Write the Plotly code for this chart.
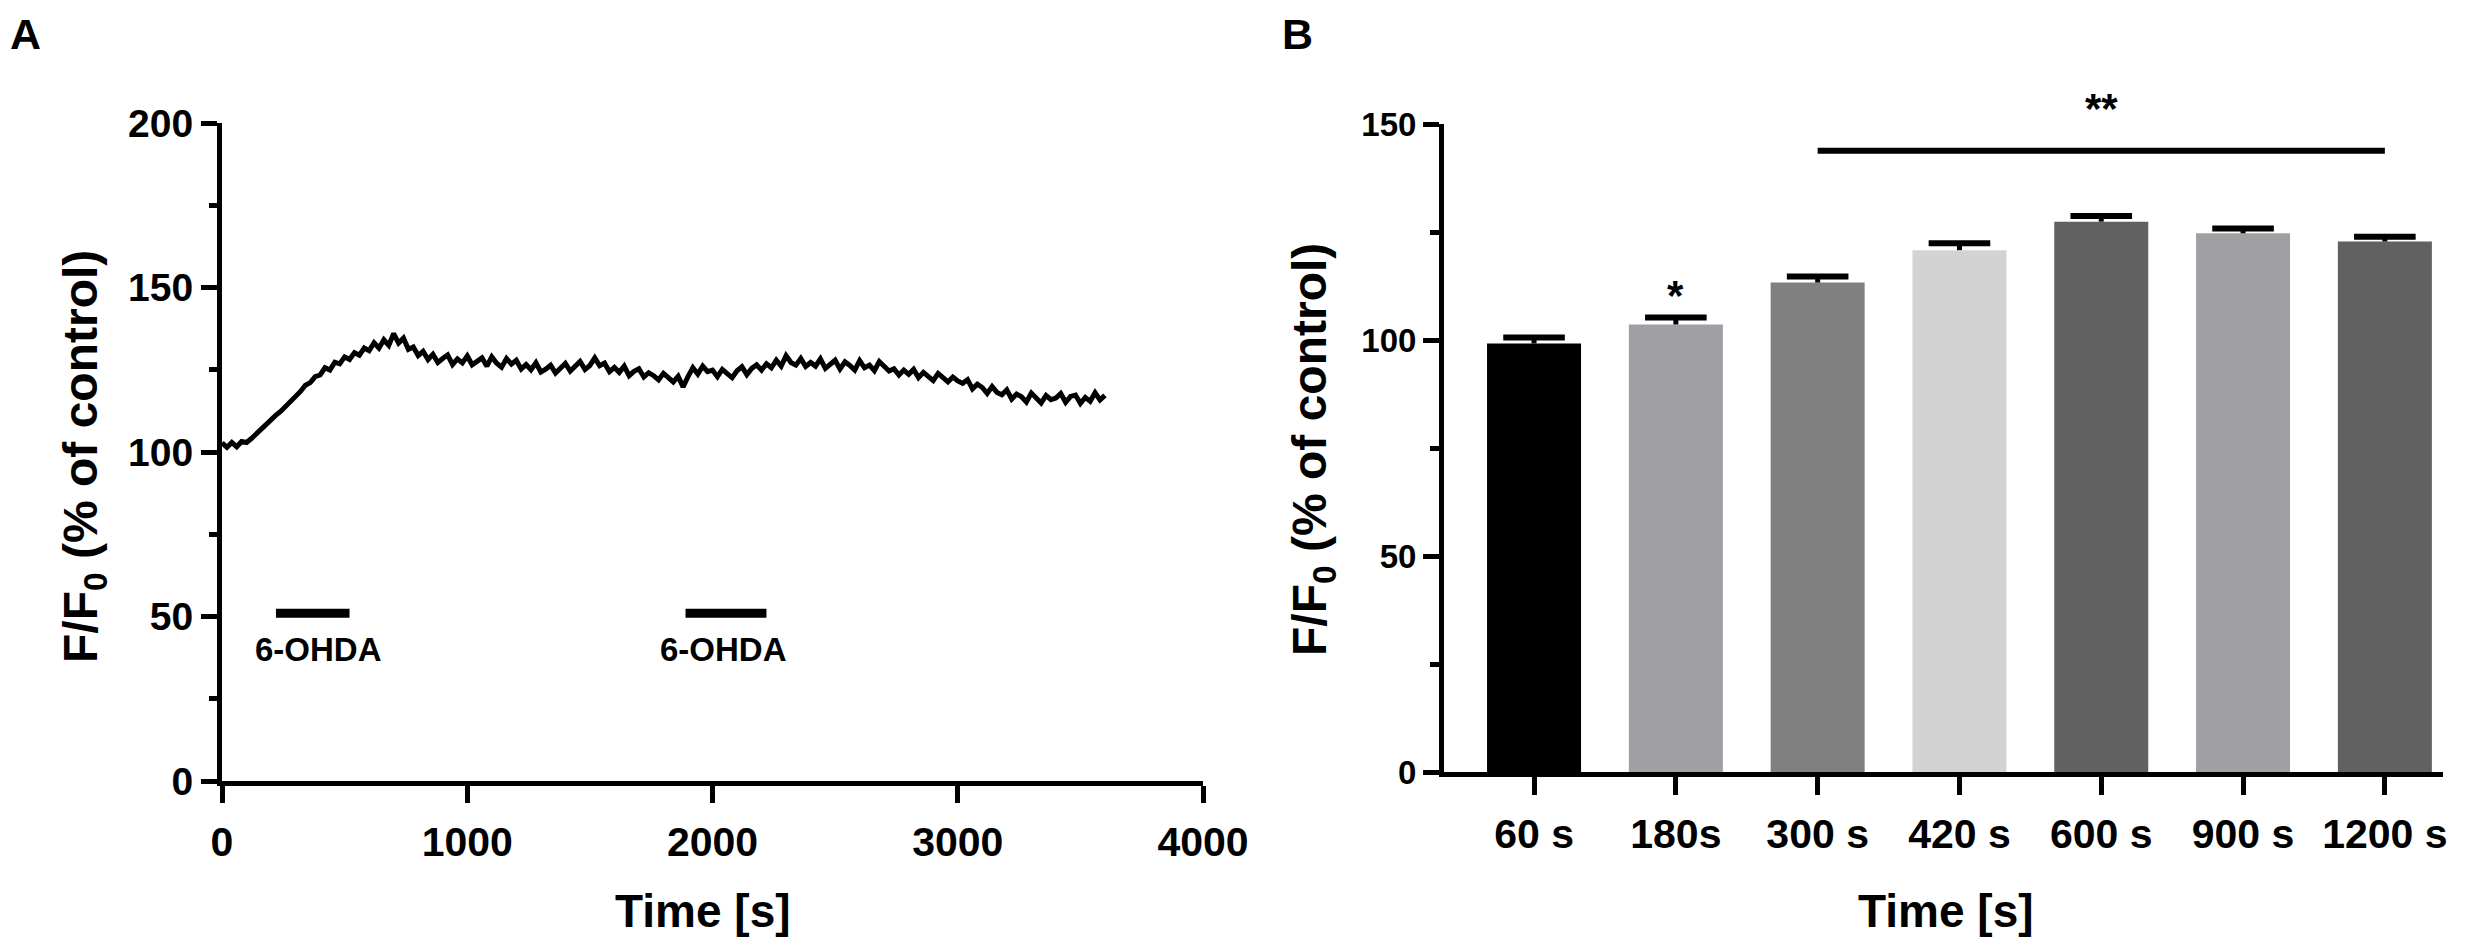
import plotly.graph_objects as go

# ---------------- Data: panel A (time course) ----------------
trace_time = list(range(0, 3601, 20))
trace_ratio = [
    102.8, 101.4, 102.9, 101.6, 103.2, 102.9, 104.1, 105.6, 106.9, 108.3,
    109.6, 111.2, 112.4, 113.9, 115.2, 117.1, 118.4, 120.3, 121.1, 122.9,
    123.4, 125.6, 124.9, 127.3, 126.8, 128.9, 128.1, 130.2, 129.4, 131.6,
    130.8, 133.2, 131.6, 134.1, 132.4, 136.0, 133.1, 134.6, 131.2, 131.9,
    129.3, 130.6, 128.1, 129.7, 127.2, 128.4, 129.5, 126.6, 128.3, 127.1,
    129.2, 126.5, 127.8, 128.6, 126.1, 128.9, 127.0, 125.8, 128.4, 126.7,
    127.9, 125.2, 126.6, 125.0, 127.1, 124.3, 125.2, 126.4, 124.0, 125.6,
    126.9, 124.6, 126.0, 127.5, 125.1, 126.3, 128.6, 126.2, 127.0, 124.4,
    125.7, 124.2, 126.1, 123.2, 124.5, 125.3, 122.8, 124.1, 123.2, 121.9,
    123.9, 122.4, 121.3, 123.0, 119.8, 122.9, 125.6, 123.7, 126.1, 124.4,
    124.9, 122.9, 125.1, 123.8, 122.6, 124.7, 125.9, 123.5, 125.4, 126.5,
    124.9, 126.8, 125.6, 127.9, 126.1, 129.3, 127.2, 126.4, 128.4, 126.0,
    127.2, 126.1, 128.3, 125.4, 126.8, 127.9, 125.2, 127.4, 126.3, 124.9,
    127.8, 125.6, 126.4, 124.7, 127.5, 125.8, 124.6, 125.3, 123.4, 124.9,
    123.6, 125.1, 122.6, 124.2, 123.0, 121.7, 123.9, 122.4, 121.3, 122.8,
    121.6, 120.9, 122.0, 119.2, 120.6, 119.6, 117.8, 119.9, 118.1, 117.4,
    118.9, 116.1, 117.6, 116.8, 115.2, 117.9, 116.3, 114.9, 117.2, 115.9,
    116.4, 117.8, 115.1, 116.9, 117.3, 114.8, 116.6, 115.4, 118.0, 115.8,
    117.2,
]
ohda_start = [220, 1890]
ohda_end = [520, 2220]
ohda_level = 51
ohda_label_x = [395, 2045]
ohda_label_y = 40
ohda_label = "6-OHDA"
a_xticks = [0, 1000, 2000, 3000, 4000]
a_yticks = [0, 50, 100, 150, 200]

# ---------------- Data: panel B (bars) ----------------
b_categories = ["60 s", "180s", "300 s", "420 s", "600 s", "900 s", "1200 s"]
b_means = [99.2, 103.6, 113.3, 120.8, 127.4, 124.7, 122.8]
b_sem = [1.4, 1.6, 1.4, 1.6, 1.3, 1.1, 1.1]
b_colors = ["#000000", "#a0a0a4", "#808080", "#d3d3d3", "#616161", "#a0a0a4", "#616161"]
b_yticks = [0, 50, 100, 150]
b_ymax = 150
star_single_cat = "180s"
star_single_y = 110.4
sig_start_cat = "300 s"
sig_end_cat = "1200 s"
sig_level = 143.8
sig_text_y = 153.5

W, H = 2467, 947
OFF = 8  # page body margin offset
FONT = "Liberation Sans, Arial, sans-serif"


def px_x(p):
    return (p - OFF) / W


def px_y(p):
    return 1 - (p - OFF) / H


fig = go.Figure()

# Panel A trace
fig.add_trace(go.Scatter(
    x=trace_time, y=trace_ratio, mode="lines",
    line=dict(color="black", width=5),
    xaxis="x", yaxis="y", showlegend=False, hoverinfo="skip",
))

# Panel B bars
fig.add_trace(go.Bar(
    x=b_categories, y=b_means, marker=dict(color=b_colors, line=dict(width=0)),
    width=0.663, xaxis="x2", yaxis="y2", showlegend=False,
))

# Panel B error bars (upward only): stems + caps
stem_x, stem_y = [], []
for c, m, s in zip(b_categories, b_means, b_sem):
    stem_x += [c, c, None]
    stem_y += [m, m + s, None]
fig.add_trace(go.Scatter(
    x=stem_x, y=stem_y, mode="lines", line=dict(color="black", width=5),
    xaxis="x2", yaxis="y2", showlegend=False, hoverinfo="skip",
))
fig.add_trace(go.Scatter(
    x=b_categories, y=[m + s for m, s in zip(b_means, b_sem)], mode="markers",
    marker=dict(symbol="line-ew", size=44, color="black",
                line=dict(color="black", width=6)),
    xaxis="x2", yaxis="y2", showlegend=False, hoverinfo="skip",
))

tick_common = dict(showline=True, linecolor="black", linewidth=5, ticks="outside",
                   tickcolor="black", tickwidth=5, showgrid=False, zeroline=False,
                   mirror=False, automargin=False)

fig.update_layout(
    template="none",
    width=W, height=H, autosize=False,
    margin=dict(l=0, r=0, t=0, b=0, pad=0, autoexpand=False),
    paper_bgcolor="white", plot_bgcolor="white",
    font=dict(family=FONT, color="black"),
    xaxis=dict(domain=[px_x(222), px_x(1203)], range=[0, 4000], anchor="y",
               tickvals=a_xticks, ticklen=17,
               tickfont=dict(size=41, family=FONT, weight="bold"),
               ticklabelstandoff=4, **tick_common),
    yaxis=dict(domain=[px_y(781), px_y(123)], range=[0, 200], anchor="x",
               tickvals=a_yticks, ticklen=16,
               minor=dict(dtick=25, ticks="outside", ticklen=8, tickwidth=5, tickcolor="black"),
               tickfont=dict(size=39, family=FONT, weight="bold"),
               ticklabelstandoff=0, **tick_common),
    xaxis2=dict(domain=[px_x(1444), px_x(2443)], range=[-0.635, 6.41], anchor="y2",
                type="category", categoryorder="array", categoryarray=b_categories,
                ticklen=18, tickfont=dict(size=41, family=FONT, weight="bold"),
                ticklabelstandoff=4, **tick_common),
    yaxis2=dict(domain=[px_y(772), px_y(124)], range=[0, b_ymax], anchor="x2",
                tickvals=b_yticks, ticklen=16,
                minor=dict(dtick=25, ticks="outside", ticklen=9, tickwidth=5, tickcolor="black"),
                tickfont=dict(size=33, family=FONT, weight="bold"),
                ticklabelstandoff=0, **tick_common),
)

# 6-OHDA application bars
for s, e in zip(ohda_start, ohda_end):
    fig.add_shape(type="line", xref="x", yref="y", x0=s, x1=e, y0=ohda_level, y1=ohda_level,
                  line=dict(color="black", width=9))
for lx in ohda_label_x:
    fig.add_annotation(x=lx, y=ohda_label_y, xref="x", yref="y", text=ohda_label,
                       xanchor="center", yanchor="middle",
                       showarrow=False, font=dict(size=33, family=FONT, weight="bold"))

# significance line and stars
i0 = b_categories.index(sig_start_cat)
i1 = b_categories.index(sig_end_cat)
fig.add_shape(type="line", xref="x2", yref="y2", x0=i0, x1=i1, y0=sig_level, y1=sig_level,
              line=dict(color="black", width=6))
fig.add_annotation(x=(i0 + i1) / 2, y=sig_text_y / b_ymax, xref="x2", yref="y2 domain",
                   text="**", xanchor="center", yanchor="middle", showarrow=False,
                   font=dict(size=42, family=FONT, weight="bold"))
fig.add_annotation(x=star_single_cat, y=star_single_y, xref="x2", yref="y2", text="*",
                   xanchor="center", yanchor="middle", showarrow=False,
                   font=dict(size=42, family=FONT, weight="bold"))

# axis titles
title_font = dict(size=48, family=FONT, weight="bold", color="black")
ytitle = "F/F<sub>0</sub> (% of control)"
fig.add_annotation(x=px_x(84), y=px_y(457), xref="paper", yref="paper", text=ytitle,
                   textangle=-90, xanchor="center", yanchor="middle", showarrow=False,
                   font=title_font)
fig.add_annotation(x=px_x(1313), y=px_y(450), xref="paper", yref="paper", text=ytitle,
                   textangle=-90, xanchor="center", yanchor="middle", showarrow=False,
                   font=title_font)
xt_font = dict(size=46, family=FONT, weight="bold", color="black")
fig.add_annotation(x=px_x(703), y=px_y(911), xref="paper", yref="paper", text="Time [s]",
                   xanchor="center", yanchor="middle", showarrow=False, font=xt_font)
fig.add_annotation(x=px_x(1946), y=px_y(911), xref="paper", yref="paper", text="Time [s]",
                   xanchor="center", yanchor="middle", showarrow=False, font=xt_font)

# panel letters
fig.add_annotation(x=px_x(8), y=1.0, xref="paper", yref="paper", text="A",
                   xanchor="left", yanchor="top", showarrow=False,
                   font=dict(size=43, family=FONT, weight="bold"))
fig.add_annotation(x=px_x(1280), y=1.0, xref="paper", yref="paper", text="B",
                   xanchor="left", yanchor="top", showarrow=False,
                   font=dict(size=43, family=FONT, weight="bold"))

fig.write_html("out.html")
